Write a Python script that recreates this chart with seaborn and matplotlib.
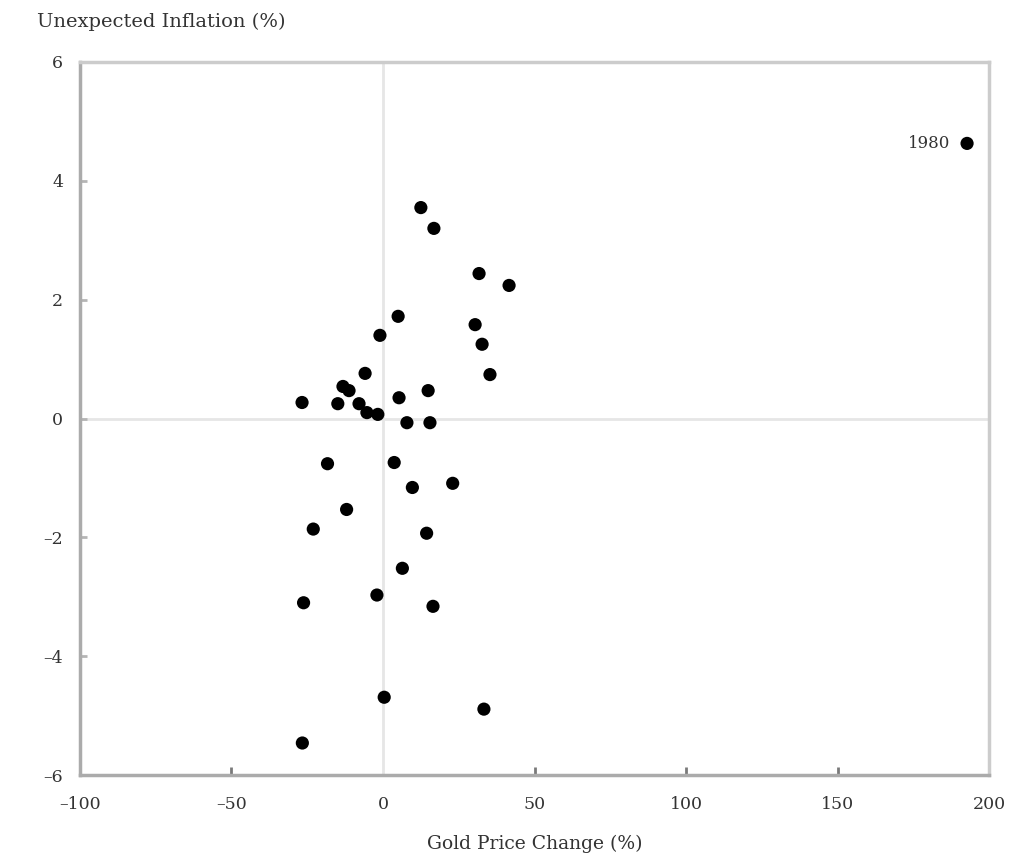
import matplotlib
matplotlib.use("Agg")
import matplotlib.pyplot as plt
import seaborn as sns
import pandas as pd

# Gold price change (%) vs unexpected inflation (%), one point per year
gold_change = [
    192.7, 12.5, 16.8, 31.7, 41.6, 5.0, -1.0, 30.4, 32.7, 35.3,
    -5.9, -13.2, -11.2, 14.9, -26.7, -14.9, 5.3, -7.9, -5.3, -1.7,
    7.9, 15.5, -18.3, 3.7, 9.7, 23.0, -12.0, -23.0, 14.4, 6.4,
    -2.0, -26.2, 16.5, 0.4, 33.3, -26.6,
]
unexpected_inflation = [
    4.63, 3.55, 3.20, 2.44, 2.24, 1.72, 1.40, 1.58, 1.25, 0.74,
    0.76, 0.54, 0.47, 0.47, 0.27, 0.25, 0.35, 0.25, 0.10, 0.07,
    -0.07, -0.07, -0.76, -0.74, -1.16, -1.09, -1.53, -1.86, -1.93, -2.52,
    -2.97, -3.10, -3.16, -4.69, -4.89, -5.46,
]
x_ticks = [-100, -50, 0, 50, 100, 150, 200]
y_ticks = [-6, -4, -2, 0, 2, 4, 6]
label_year = "1980"

df = pd.DataFrame({"gold": gold_change, "infl": unexpected_inflation})

sns.set_style("white")
plt.rcParams["font.family"] = ["DejaVu Serif"]

text_color = "#333333"
frame_color = "#ababab"

fig = plt.figure(figsize=(10.24, 8.67), dpi=100)
ax = fig.add_axes([0.078, 0.106, 0.888, 0.8225])

ax.axhline(0, color="#e6e6e6", lw=2, zorder=0)
ax.axvline(0, color="#e6e6e6", lw=2, zorder=0)

sns.scatterplot(data=df, x="gold", y="infl", ax=ax, color="black",
                s=90, edgecolor="none", zorder=3, legend=False)

# label the outlier year
ax.annotate(label_year, (df["gold"].iloc[0], df["infl"].iloc[0]),
            xytext=(-12, 0), textcoords="offset points",
            ha="right", va="center", fontsize=12, color=text_color)

ax.set_xlim(-100, 200)
ax.set_ylim(-6, 6)
ax.set_xticks(x_ticks)
ax.set_yticks(y_ticks)
ax.set_xticklabels([str(v) if v >= 0 else "\u2013" + str(-v) for v in x_ticks])
ax.set_yticklabels([str(v) if v >= 0 else "\u2013" + str(-v) for v in y_ticks])

for side, sp in ax.spines.items():
    sp.set_visible(True)
    sp.set_color(frame_color)
    sp.set_linewidth(2.5)
ax.spines["top"].set_color("#cccccc")
ax.spines["right"].set_color("#cccccc")

# seaborn's white style switches the ticks off, turn them back on
ax.tick_params(axis="both", which="major", bottom=True, left=True,
               direction="in", length=6, width=2,
               labelsize=12.5, labelcolor=text_color)
ax.tick_params(axis="x", pad=15, color="#7a7a7a")
ax.tick_params(axis="y", pad=12, color="#b5b5b5", length=5)

# the zero tick on x sits under the light zero line in the original
for t in ax.xaxis.get_major_ticks():
    if t.get_loc() == 0:
        t.tick1line.set_visible(False)

ax.set_xlabel("Gold Price Change (%)", fontsize=13.5, color=text_color, labelpad=16)
ax.set_ylabel("")
fig.text(0.036, 0.975, "Unexpected Inflation (%)", fontsize=14,
         color=text_color, ha="left", va="center")

fig.savefig("out.png", dpi=100)
plt.close(fig)
